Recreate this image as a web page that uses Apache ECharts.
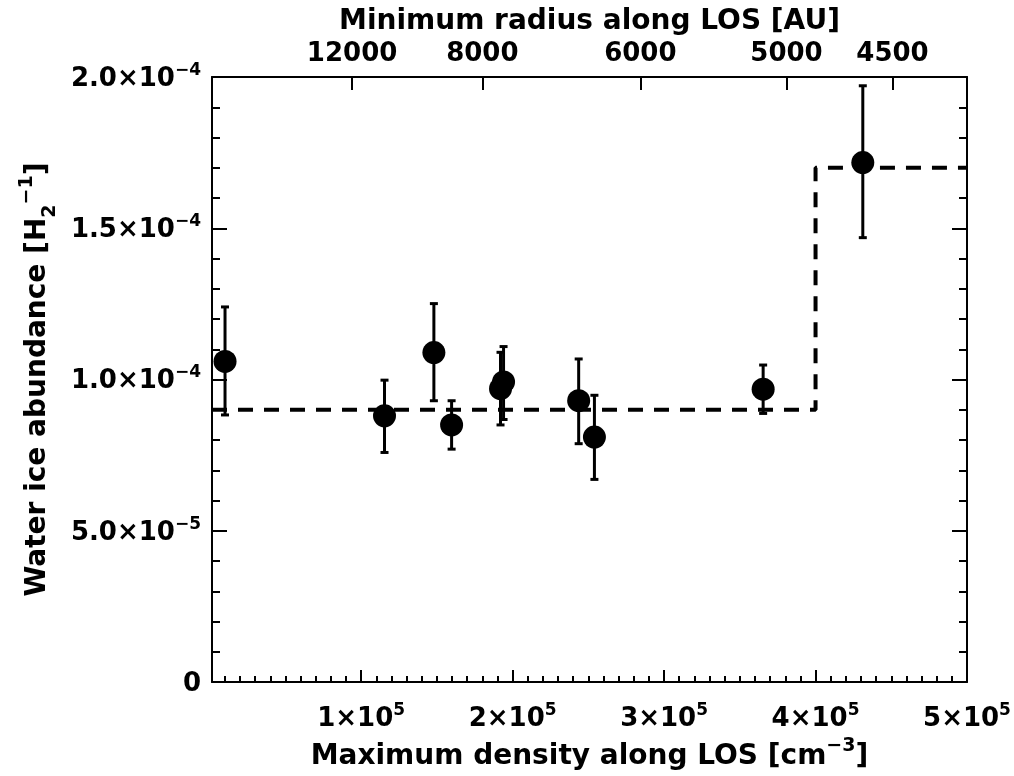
<!DOCTYPE html>
<html>
<head>
<meta charset="utf-8">
<script src="https://cdn.jsdelivr.net/npm/echarts@6/dist/echarts.min.js"></script>
<style>html,body{margin:0;padding:0;background:#fff}#c{width:1014px;height:776px}</style>
</head>
<body>
<div id="c"></div>
<script>
// ---- data ----
const density = [10100, 115400, 148000, 159700, 192000, 194000, 243600, 254000, 365400, 431200];
const abundance = [1.060e-4, 0.880e-4, 1.089e-4, 0.850e-4, 0.970e-4, 0.992e-4, 0.930e-4, 0.810e-4, 0.968e-4, 1.717e-4];
const errHigh = [1.240e-4, 0.998e-4, 1.251e-4, 0.930e-4, 1.090e-4, 1.109e-4, 1.068e-4, 0.948e-4, 1.048e-4, 1.971e-4];
const errLow = [0.883e-4, 0.759e-4, 0.930e-4, 0.770e-4, 0.850e-4, 0.868e-4, 0.788e-4, 0.670e-4, 0.888e-4, 1.469e-4];
const stepX = [1500, 400000, 400000, 500000];
const stepY = [0.9e-4, 0.9e-4, 1.7e-4, 1.7e-4];
const xMajorTicks = [100000, 200000, 300000, 400000, 500000];
const xTickMant = ['1', '2', '3', '4', '5'];
const xTickExp = ['5', '5', '5', '5', '5'];
const yTickMant = ['0', '5.0', '1.0', '1.5', '2.0'];
const yTickExp = ['', '−5', '−4', '−4', '−4'];
const topTickDensity = [94000, 180000, 284300, 380800, 450800];
const topTickLabels = ['12000', '8000', '6000', '5000', '4500'];
const xMin = 1500, xMax = 500000;

// ---- chart ----
const FF = '"DejaVu Sans", sans-serif';
const rich = {
  n: {fontFamily: FF, fontWeight: 'bold', fontSize: 26, color: '#000', verticalAlign: 'bottom', lineHeight: 30},
  sup: {fontFamily: FF, fontWeight: 'bold', fontSize: 17, color: '#000', verticalAlign: 'top', lineHeight: 30}
};
const richT = {
  n: {fontFamily: FF, fontWeight: 'bold', fontSize: 28, color: '#000', verticalAlign: 'bottom', lineHeight: 34},
  sup: {fontFamily: FF, fontWeight: 'bold', fontSize: 19, color: '#000', verticalAlign: 'top', lineHeight: 34},
  sub: {fontFamily: FF, fontWeight: 'bold', fontSize: 19, color: '#000', verticalAlign: 'bottom', lineHeight: 24, padding: [0, 0, -8, 0]}
};
const minorX = [];
for (let v = 10000; v < xMax; v += 10000) minorX.push(v);

const axisLine = {show: true, lineStyle: {color: '#000', width: 2}};
const chart = echarts.init(document.getElementById('c'), null, {renderer: 'canvas'});
chart.setOption({
  animation: false,
  backgroundColor: '#fff',
  grid: {left: 212, right: 47, top: 77, bottom: 88, containLabel: false},
  xAxis: [
    {
      type: 'value', position: 'bottom', min: xMin, max: xMax,
      axisLine: axisLine, splitLine: {show: false},
      axisTick: {show: true, inside: true, length: 12, customValues: xMajorTicks, lineStyle: {color: '#000', width: 2}},
      axisLabel: {show: true, customValues: xMajorTicks, margin: 20, rich: rich,
        formatter: function (v) { const i = xMajorTicks.indexOf(v); return i < 0 ? '' : '{n|' + xTickMant[i] + '×10}{sup|' + xTickExp[i] + '}'; }},
      name: '{n|Maximum density along LOS [cm}{sup|−3}{n|]}',
      nameLocation: 'middle', nameGap: 50, nameTextStyle: {rich: richT}
    },
    {
      type: 'value', position: 'bottom', min: xMin, max: xMax,
      axisLine: {show: false}, splitLine: {show: false}, axisLabel: {show: false},
      axisTick: {show: true, inside: true, length: 6, customValues: minorX, lineStyle: {color: '#000', width: 2}}
    },
    {
      type: 'value', position: 'top', min: xMin, max: xMax,
      axisLine: axisLine, splitLine: {show: false},
      axisTick: {show: true, inside: true, length: 13, customValues: topTickDensity, lineStyle: {color: '#000', width: 2}},
      axisLabel: {show: true, customValues: topTickDensity, margin: 10, rich: rich,
        formatter: function (v) { const i = topTickDensity.indexOf(v); return i < 0 ? '' : '{n|' + topTickLabels[i] + '}'; }},
      name: '{n|Minimum radius along LOS [AU]}',
      nameLocation: 'middle', nameGap: 38, nameTextStyle: {rich: richT}
    }
  ],
  yAxis: [
    {
      type: 'value', position: 'left', min: 0, max: 2e-4, interval: 5e-5,
      axisLine: axisLine, splitLine: {show: false},
      axisTick: {show: true, inside: true, length: 15, lineStyle: {color: '#000', width: 2}},
      minorTick: {show: true, splitNumber: 5, length: 8, lineStyle: {color: '#000', width: 2}},
      axisLabel: {show: true, margin: 11, rich: rich,
        formatter: function (v, i) { return yTickExp[i] ? '{n|' + yTickMant[i] + '×10}{sup|' + yTickExp[i] + '}' : '{n|' + yTickMant[i] + '}'; }},
      name: '{n|Water ice abundance [H}{sub|2}{sup|−1}{n|]}',
      nameLocation: 'middle', nameGap: 158, nameRotate: 90, nameTextStyle: {rich: richT}
    },
    {
      type: 'value', position: 'right', min: 0, max: 2e-4, interval: 5e-5,
      axisLine: axisLine, splitLine: {show: false}, axisLabel: {show: false},
      axisTick: {show: true, inside: true, length: 15, lineStyle: {color: '#000', width: 2}},
      minorTick: {show: true, splitNumber: 5, length: 8, lineStyle: {color: '#000', width: 2}}
    }
  ],
  series: [
    {
      type: 'line', xAxisIndex: 0, yAxisIndex: 0, symbol: 'none', silent: true, z: 2,
      data: stepX.map((x, i) => [x, stepY[i]]),
      lineStyle: {color: '#000', width: 4, type: [15, 11]}
    },
    {
      type: 'custom', xAxisIndex: 0, yAxisIndex: 0, z: 3, silent: true,
      data: density.map((x, i) => [x, errLow[i], errHigh[i]]),
      renderItem: function (params, api) {
        const lo = api.coord([api.value(0), api.value(1)]);
        const hi = api.coord([api.value(0), api.value(2)]);
        const w = 4;
        const st = {stroke: '#000', lineWidth: 3};
        return {type: 'group', children: [
          {type: 'line', shape: {x1: lo[0], y1: lo[1], x2: hi[0], y2: hi[1]}, style: st},
          {type: 'line', shape: {x1: lo[0] - w, y1: lo[1], x2: lo[0] + w, y2: lo[1]}, style: st},
          {type: 'line', shape: {x1: hi[0] - w, y1: hi[1], x2: hi[0] + w, y2: hi[1]}, style: st}
        ]};
      }
    },
    {
      type: 'scatter', xAxisIndex: 0, yAxisIndex: 0, z: 4, silent: true,
      symbol: 'circle', symbolSize: 23,
      itemStyle: {color: '#000', opacity: 1},
      data: density.map((x, i) => [x, abundance[i]])
    }
  ]
});
</script>
</body>
</html>
